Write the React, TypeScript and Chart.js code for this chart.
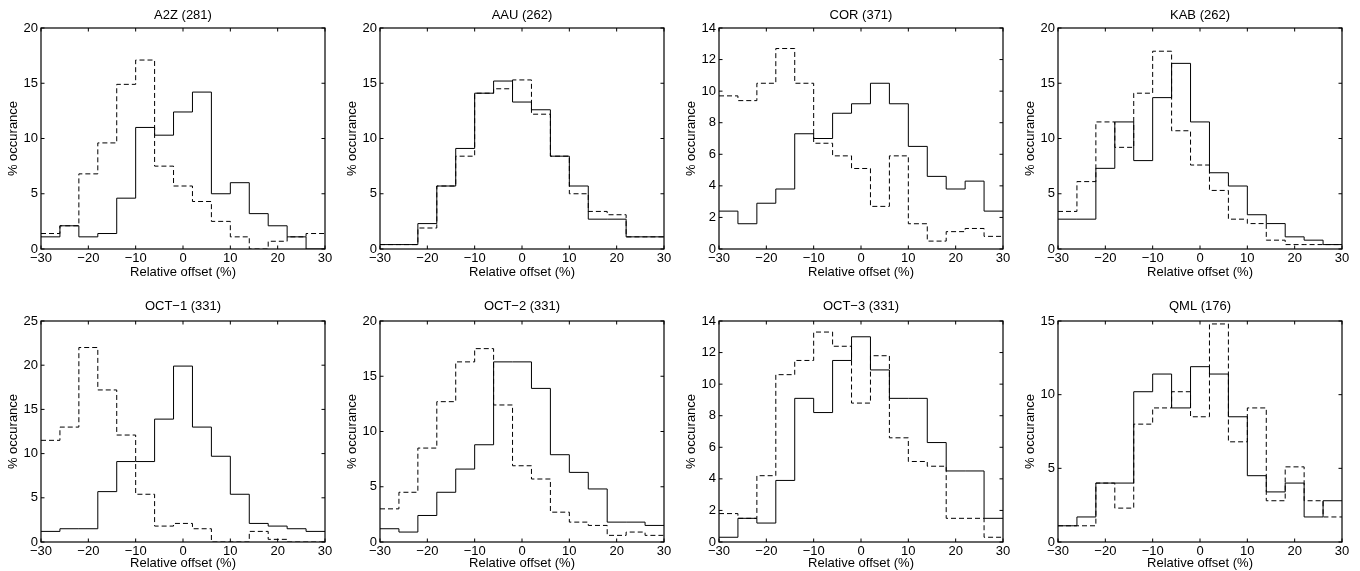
import { useEffect, useRef } from 'react';
import { Chart, registerables } from 'chart.js';

Chart.register(...registerables);

// Histogram bin edges (%), 15 bins of width 4
const binEdges = [-30, -26, -22, -18, -14, -10, -6, -2, 2, 6, 10, 14, 18, 22, 26, 30];

const panelTitles = [
  'A2Z (281)', 'AAU (262)', 'COR (371)', 'KAB (262)',
  'OCT\u22121 (331)', 'OCT\u22122 (331)', 'OCT\u22123 (331)', 'QML (176)',
];
const yMaxes = [20, 20, 14, 20, 25, 20, 14, 15];
const ySteps = [5, 5, 2, 5, 5, 5, 2, 5];

// Solid histograms
const a2zSolid = [1.1, 2.1, 1.1, 1.4, 4.6, 11.0, 10.3, 12.4, 14.2, 5.0, 6.0, 3.2, 2.1, 1.1, 0];
const aauSolid = [0.4, 0.4, 2.3, 5.7, 9.1, 14.1, 15.2, 13.3, 12.6, 8.4, 5.7, 2.7, 2.7, 1.1, 1.1];
const corSolid = [2.4, 1.6, 2.9, 3.8, 7.3, 7.0, 8.6, 9.2, 10.5, 9.2, 6.5, 4.6, 3.8, 4.3, 2.4];
const kabSolid = [2.7, 2.7, 7.3, 11.5, 8.0, 13.7, 16.8, 11.5, 6.9, 5.7, 3.1, 2.3, 1.1, 0.8, 0.4];
const oct1Solid = [1.2, 1.5, 1.5, 5.7, 9.1, 9.1, 13.9, 19.9, 13.0, 9.7, 5.4, 2.1, 1.8, 1.5, 1.2];
const oct2Solid = [1.2, 0.9, 2.4, 4.5, 6.6, 8.8, 16.3, 16.3, 13.9, 7.9, 6.3, 4.8, 1.8, 1.8, 1.5];
const oct3Solid = [0.3, 1.5, 1.2, 3.9, 9.1, 8.2, 11.5, 13.0, 10.9, 9.1, 9.1, 6.3, 4.5, 4.5, 1.5];
const qmlSolid = [1.1, 1.7, 4.0, 4.0, 10.2, 11.4, 9.1, 11.9, 11.4, 8.5, 4.5, 3.4, 4.0, 1.7, 2.8];

// Dashed histograms
const a2zDashed = [1.4, 2.1, 6.8, 9.6, 14.9, 17.1, 7.5, 5.7, 4.3, 2.5, 1.1, 0, 0.7, 1.1, 1.4];
const aauDashed = [0.4, 0.4, 1.9, 5.7, 8.4, 14.1, 14.5, 15.3, 12.2, 8.4, 5.0, 3.4, 3.1, 1.1, 1.1];
const corDashed = [9.7, 9.4, 10.5, 12.7, 10.5, 6.7, 5.9, 5.1, 2.7, 5.9, 1.6, 0.5, 1.1, 1.3, 0.8];
const kabDashed = [3.4, 6.1, 11.5, 9.2, 14.1, 17.9, 10.7, 7.6, 5.3, 2.7, 2.3, 0.8, 0.4, 0.4, 0.4];
const oct1Dashed = [11.5, 13.0, 22.0, 17.2, 12.1, 5.4, 1.8, 2.1, 1.5, 0, 0, 1.2, 0.3, 0, 0];
const oct2Dashed = [3.0, 4.5, 8.5, 12.7, 16.3, 17.5, 12.4, 6.9, 5.7, 2.7, 1.8, 1.5, 0.6, 0.9, 0.6];
const oct3Dashed = [1.8, 1.5, 4.2, 10.6, 11.5, 13.3, 12.4, 8.8, 11.8, 6.6, 5.1, 4.8, 1.5, 1.5, 0.3];
const qmlDashed = [1.1, 1.1, 4.0, 2.3, 8.0, 9.1, 10.2, 8.5, 14.8, 6.8, 9.1, 2.8, 5.1, 2.8, 1.7];

const solidSeries = [a2zSolid, aauSolid, corSolid, kabSolid, oct1Solid, oct2Solid, oct3Solid, qmlSolid];
const dashedSeries = [a2zDashed, aauDashed, corDashed, kabDashed, oct1Dashed, oct2Dashed, oct3Dashed, qmlDashed];

const FONT = 'Liberation Sans, Arial, Helvetica, sans-serif';
const FONT_SIZE = 13;
const LINE_H = FONT_SIZE * 1.2;
const CANVAS_W = 340;
const PLOT_W = 284;
const PLOT_H = 221;
const PLOT_TOP = 28;
const Y_AXIS_W = 40;
const colLefts = [1, 340, 679, 1018];
const rowTops = [0, 293];
const rowHeights = [280, 278];
const rowTitleCenters = [15, 13.5];

function toSteps(values: number[]) {
  const pts = values.map((v, i) => ({ x: binEdges[i], y: v }));
  pts.push({ x: binEdges[binEdges.length - 1], y: values[values.length - 1] });
  return pts;
}

const framePlugin = {
  id: 'matlabFrame',
  afterDatasetsDraw(chart: any) {
    const { ctx, chartArea, scales } = chart;
    const { left, right, top, bottom } = chartArea;
    const L = 3.5;
    ctx.save();
    ctx.strokeStyle = '#000';
    ctx.lineWidth = 1.2;
    ctx.strokeRect(left, top, right - left, bottom - top);
    ctx.lineWidth = 1;
    ctx.beginPath();
    scales.x.ticks.forEach((t: any) => {
      const px = scales.x.getPixelForValue(t.value);
      ctx.moveTo(px, bottom);
      ctx.lineTo(px, bottom - L);
      ctx.moveTo(px, top);
      ctx.lineTo(px, top + L);
    });
    scales.y.ticks.forEach((t: any) => {
      const py = scales.y.getPixelForValue(t.value);
      ctx.moveTo(left, py);
      ctx.lineTo(left + L, py);
      ctx.moveTo(right, py);
      ctx.lineTo(right - L, py);
    });
    ctx.stroke();
    ctx.restore();
  },
};

const minusFmt = (v: any) => String(v).replace('-', '\u2212');

function Panel({ index }: { index: number }) {
  const ref = useRef<HTMLCanvasElement | null>(null);
  const col = index % 4;
  const row = Math.floor(index / 4);
  const canvasH = rowHeights[row];

  useEffect(() => {
    if (!ref.current) return;
    const titlePadTop = rowTitleCenters[row] - LINE_H / 2;
    const titlePadBottom = PLOT_TOP - titlePadTop - LINE_H;
    const chart = new Chart(ref.current, {
      type: 'line',
      data: {
        datasets: [
          {
            data: toSteps(solidSeries[index]),
            borderColor: '#000',
            borderWidth: 1,
            pointRadius: 0,
            stepped: true,
            fill: false,
          },
          {
            data: toSteps(dashedSeries[index]),
            borderColor: '#000',
            borderWidth: 1,
            borderDash: [5, 3],
            pointRadius: 0,
            stepped: true,
            fill: false,
          },
        ],
      },
      plugins: [framePlugin],
      options: {
        animation: false,
        responsive: false,
        events: [],
        layout: {
          padding: {
            top: titlePadTop,
            left: 0,
            right: CANVAS_W - Y_AXIS_W - PLOT_W,
            bottom: 0,
          },
        },
        plugins: {
          legend: { display: false },
          tooltip: { enabled: false },
          title: {
            display: true,
            text: panelTitles[index],
            color: '#000',
            fullSize: false,
            font: { family: FONT, size: FONT_SIZE, weight: 'normal', lineHeight: 1.2 },
            padding: { top: 0, bottom: titlePadBottom },
          },
        },
        scales: {
          x: {
            type: 'linear',
            min: -30,
            max: 30,
            grid: { display: false, drawTicks: false },
            border: { display: false },
            ticks: {
              stepSize: 10,
              color: '#000',
              padding: 2,
              maxRotation: 0,
              font: { family: FONT, size: FONT_SIZE },
              callback: minusFmt,
            },
            title: {
              display: true,
              text: 'Relative offset (%)',
              color: '#000',
              font: { family: FONT, size: FONT_SIZE },
              padding: { top: 0, bottom: 0 },
            },
            afterFit: (s: any) => {
              s.height = canvasH - PLOT_TOP - PLOT_H;
            },
          },
          y: {
            type: 'linear',
            min: 0,
            max: yMaxes[index],
            grid: { display: false, drawTicks: false },
            border: { display: false },
            ticks: {
              stepSize: ySteps[index],
              color: '#000',
              padding: 3,
              font: { family: FONT, size: FONT_SIZE },
              callback: minusFmt,
            },
            title: {
              display: true,
              text: '% occurance',
              color: '#000',
              font: { family: FONT, size: FONT_SIZE },
              padding: { top: 5, bottom: 0 },
            },
            afterFit: (s: any) => {
              s.width = Y_AXIS_W;
            },
          },
        },
      },
    } as any);
    return () => chart.destroy();
  }, [index, row, canvasH]);

  return (
    <canvas
      ref={ref}
      width={CANVAS_W}
      height={canvasH}
      style={{
        position: 'absolute',
        left: colLefts[col],
        top: rowTops[row],
        width: CANVAS_W,
        height: canvasH,
      }}
    />
  );
}

export default function App() {
  return (
    <div>
      {panelTitles.map((_, i) => (
        <Panel key={i} index={i} />
      ))}
    </div>
  );
}
